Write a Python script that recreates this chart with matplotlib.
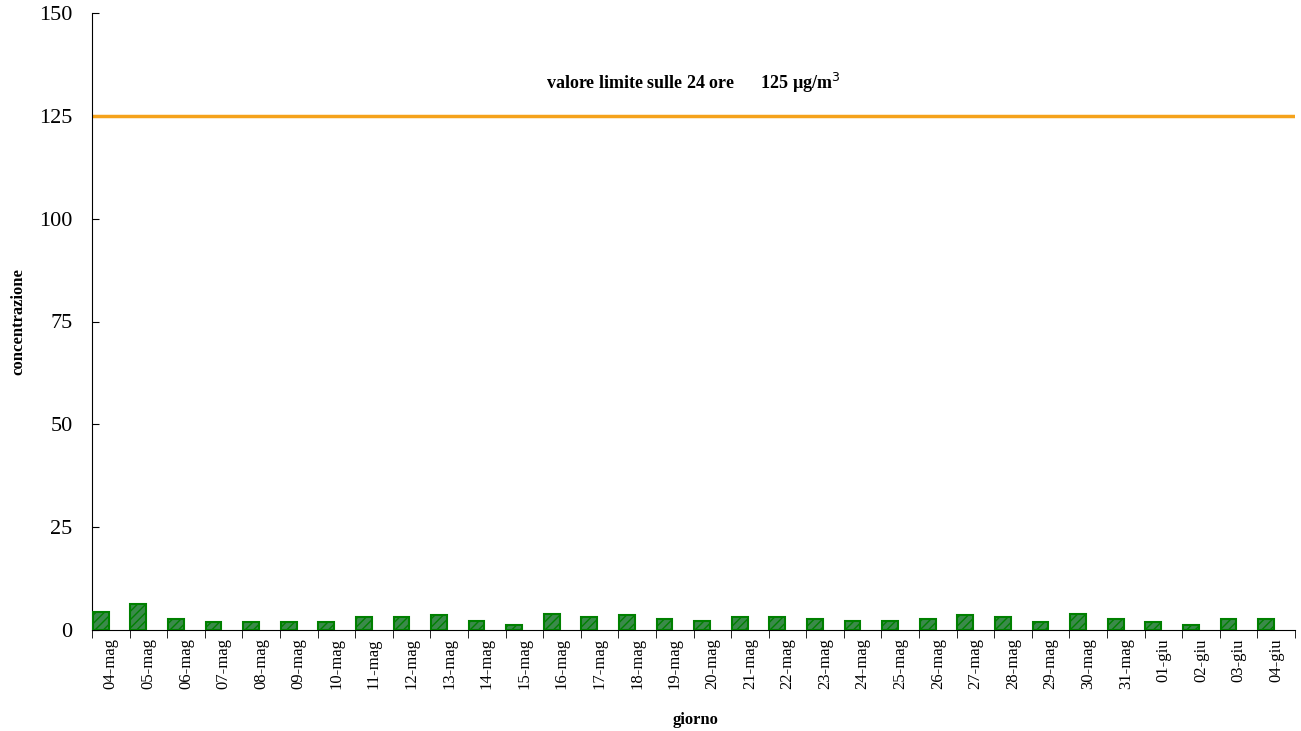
import matplotlib
matplotlib.use("Agg")
import matplotlib.pyplot as plt
import numpy as np

days = ["04-mag","05-mag","06-mag","07-mag","08-mag","09-mag","10-mag","11-mag","12-mag","13-mag",
        "14-mag","15-mag","16-mag","17-mag","18-mag","19-mag","20-mag","21-mag","22-mag","23-mag",
        "24-mag","25-mag","26-mag","27-mag","28-mag","29-mag","30-mag","31-mag","01-giu","02-giu",
        "03-giu","04-giu"]
values = [4.3,6.2,2.7,1.9,1.9,1.9,1.9,3.2,3.2,3.6,2.3,1.2,3.9,3.2,3.6,2.7,
          2.3,3.2,3.2,2.7,2.3,2.3,2.7,3.6,3.2,1.9,3.9,2.7,1.9,1.2,2.7,2.7]
limit = 125

plt.rcParams['font.family'] = ['Liberation Serif', 'DejaVu Serif']
fig = plt.figure(figsize=(13.01, 7.31), dpi=100)
ax = fig.add_axes([92/1301, 1-630/731, (1295-92)/1301, (630-13)/731])
x = np.arange(len(days))
ax.bar(x-0.27, values, width=0.42, color='#3a8a4a', edgecolor='#008000', linewidth=1.5,
       hatch='////', zorder=3)
ax.plot([-0.45, len(days)-0.5], [limit, limit], color='#f5a21b', lw=2.5, zorder=2)
ax.text(15.5, 133, "valore limite sulle 24 ore      125 µg/m$^3$", ha='center', va='center',
        fontsize=13, fontweight='bold')
ax.set_xlim(-0.5, len(days)-0.5)
ax.set_ylim(0, 150)
ax.set_yticks([0,25,50,75,100,125,150])
ax.tick_params(axis='y', labelsize=16, length=5, direction='in', pad=14)
ax.set_xticks(x)
ax.set_xticklabels(days, rotation=90, fontsize=12)
ax.set_xticks(np.arange(len(days)+1)-0.5, minor=True)
ax.tick_params(axis='x', which='major', length=0, pad=6)
ax.tick_params(axis='x', which='minor', length=6, direction='out')
for s in ['top','right']:
    ax.spines[s].set_visible(False)
fig.text(18/1301, 1-322/731, "concentrazione", rotation=90, ha='center', va='center',
         fontsize=12, fontweight='bold')
fig.text(0.535, 1-720/731, "giorno", ha='center', va='center', fontsize=12, fontweight='bold')
fig.savefig("out.png", dpi=100)
